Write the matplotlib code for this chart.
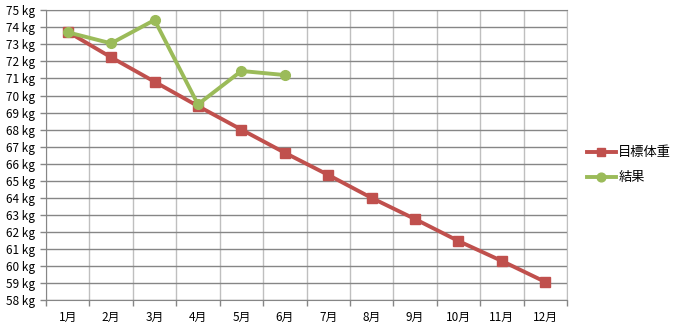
import numpy as np
import matplotlib
matplotlib.use("Agg")
import matplotlib.pyplot as plt
from matplotlib.ticker import FixedLocator

plt.rcParams["font.family"] = ["Noto Sans CJK JP", "DejaVu Sans"]

# ── データ ──────────────────────────────────────────
months  = ["1月", "2月", "3月", "4月", "5月", "6月",
           "7月", "8月", "9月", "10月", "11月", "12月"]
target  = [73.74, 72.24, 70.81, 69.38, 68.00, 66.64,
           65.34, 63.99, 62.75, 61.46, 60.29, 59.06]
result  = [73.71, 73.06, 74.43, 69.48, 71.44, 71.20]
y_ticks = list(range(58, 76))

RED   = "#C0504D"
GREEN = "#9BBB59"
GRID_H = "#868686"
GRID_V = "#BFBFBF"

fig = plt.figure(figsize=(6.8, 3.3), dpi=100)
ax = fig.add_axes([46 / 680, 30 / 330, (567 - 46) / 680, (300 - 10.3) / 330])

x = np.arange(1, len(months) + 1)
ax.plot(x, target, color=RED, lw=2.8, marker="s", ms=7, label="目標体重", zorder=3)
ax.plot(x[:len(result)], result, color=GREEN, lw=2.8, marker="o", ms=7,
        label="結果", zorder=4)

ax.set_xlim(0.5, len(months) + 0.5)
ax.set_ylim(58, 75)

# 目盛り
ax.set_yticks(y_ticks)
ax.set_yticklabels([f"{v} kg" for v in y_ticks])
ax.set_xticks(x)
ax.set_xticklabels(months)
ax.xaxis.set_minor_locator(FixedLocator(np.arange(0.5, len(months) + 1, 1.0)))
ax.tick_params(axis="x", which="major", length=0, pad=8, labelsize=8.5)
ax.tick_params(axis="x", which="minor", length=4, color=GRID_H, width=1)
ax.tick_params(axis="y", length=4, color=GRID_H, width=1, pad=4, labelsize=8.5)

# グリッド
ax.grid(axis="y", which="major", color=GRID_H, lw=1)
ax.grid(axis="x", which="minor", color=GRID_V, lw=1)
ax.set_axisbelow(True)

for side in ["left", "bottom", "top"]:
    ax.spines[side].set_color(GRID_H)
ax.spines["right"].set_color(GRID_V)

ax.legend(loc="center left", bbox_to_anchor=(1.015, 0.465), frameon=False,
          fontsize=9.5, handlelength=2.2, handletextpad=0.2, labelspacing=0.9,
          markerscale=0.9)

fig.savefig("out.png", dpi=100)
